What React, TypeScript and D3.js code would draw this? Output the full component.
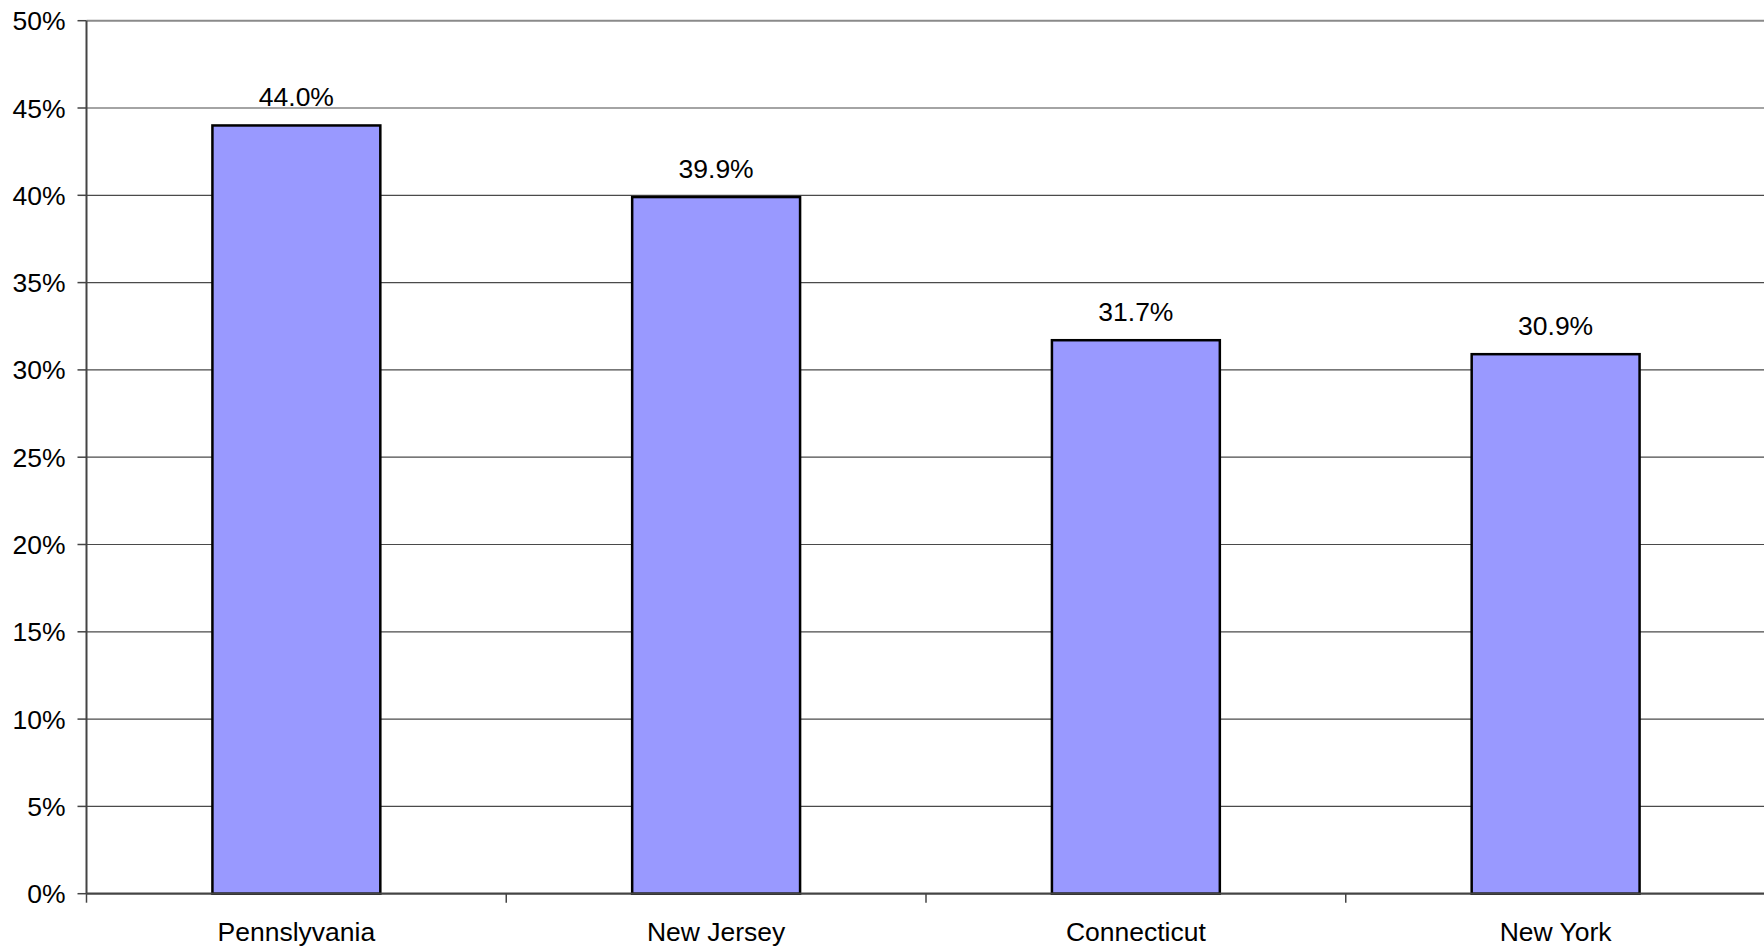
import React, { useRef, useEffect } from "react";
import * as d3 from "d3";

const states = ["Pennslyvania", "New Jersey", "Connecticut", "New York"];
const shares = [44.0, 39.9, 31.7, 30.9];
const yTicks = [0, 5, 10, 15, 20, 25, 30, 35, 40, 45, 50];

const App = () => {
  const canvas = useRef<SVGSVGElement>(null);

  const width = 1764;
  const height = 948;
  const margin = { top: 20.7, right: -1.5, bottom: 54.3, left: 86.5 };
  const innerW = width - margin.left - margin.right;
  const innerH = height - margin.top - margin.bottom;
  const font = "'Liberation Sans', Arial, sans-serif";

  useEffect(() => {
    const svg = d3.select(canvas.current);
    svg.selectAll("*").remove();

    const x = d3.scaleBand().domain(states).range([0, innerW]).paddingInner(0.6).paddingOuter(0.3);
    const xBand = d3.scaleBand().domain(states).range([0, innerW]);
    const y = d3.scaleLinear().domain([0, 50]).range([innerH, 0]);

    const g = svg.append("g").attr("transform", `translate(${margin.left},${margin.top})`);

    // gridlines
    g.selectAll("line.grid")
      .data(yTicks.filter(t => t > 0))
      .enter()
      .append("line")
      .attr("x1", 0)
      .attr("x2", innerW)
      .attr("y1", d => y(d))
      .attr("y2", d => y(d))
      .attr("stroke", d => (d === 50 ? "#8a8a8a" : "#4a4a4a"))
      .attr("stroke-width", d => (d === 50 ? 2 : 1.2));

    // bars
    g.selectAll("rect")
      .data(shares)
      .enter()
      .append("rect")
      .attr("x", (d, i) => x(states[i]) as number)
      .attr("y", d => y(d))
      .attr("width", x.bandwidth())
      .attr("height", d => innerH - y(d))
      .attr("fill", "#9999FF")
      .attr("stroke", "#000")
      .attr("stroke-width", 2.5);

    // value labels
    g.selectAll("text.val")
      .data(shares)
      .enter()
      .append("text")
      .attr("x", (d, i) => (x(states[i]) as number) + x.bandwidth() / 2)
      .attr("y", d => y(d) - 19)
      .attr("text-anchor", "middle")
      .attr("font-family", font)
      .attr("font-size", 26.5)
      .attr("fill", "#000")
      .text(d => d.toFixed(1) + "%");

    // y axis
    g.append("line")
      .attr("x1", 0).attr("x2", 0)
      .attr("y1", 0).attr("y2", innerH)
      .attr("stroke", "#444").attr("stroke-width", 2);

    const yTick = g.selectAll("g.ytick").data(yTicks).enter().append("g")
      .attr("transform", d => `translate(0,${y(d)})`);
    yTick.append("line").attr("x1", -9).attr("x2", 0).attr("stroke", "#444").attr("stroke-width", 1.5);
    yTick.append("text")
      .attr("x", -21)
      .attr("dy", "0.36em")
      .attr("text-anchor", "end")
      .attr("font-family", font)
      .attr("font-size", 26.5)
      .attr("fill", "#000")
      .text(d => d + "%");

    // x axis
    g.append("line")
      .attr("x1", 0).attr("x2", innerW)
      .attr("y1", innerH).attr("y2", innerH)
      .attr("stroke", "#444").attr("stroke-width", 2.2);

    g.selectAll("line.xtick")
      .data(states)
      .enter()
      .append("line")
      .attr("x1", d => xBand(d) as number)
      .attr("x2", d => xBand(d) as number)
      .attr("y1", innerH)
      .attr("y2", innerH + 9)
      .attr("stroke", "#444")
      .attr("stroke-width", 1.5);

    g.selectAll("text.cat")
      .data(states)
      .enter()
      .append("text")
      .attr("x", d => (xBand(d) as number) + xBand.bandwidth() / 2)
      .attr("y", innerH + 47)
      .attr("text-anchor", "middle")
      .attr("font-family", font)
      .attr("font-size", 26.5)
      .attr("fill", "#000")
      .text(d => d);
  });

  return (
    <div style={{ position: "fixed", left: 0, top: 0 }}>
      <svg ref={canvas} width={width} height={height} style={{ display: "block", background: "#fff" }} />
    </div>
  );
};

export default App;
